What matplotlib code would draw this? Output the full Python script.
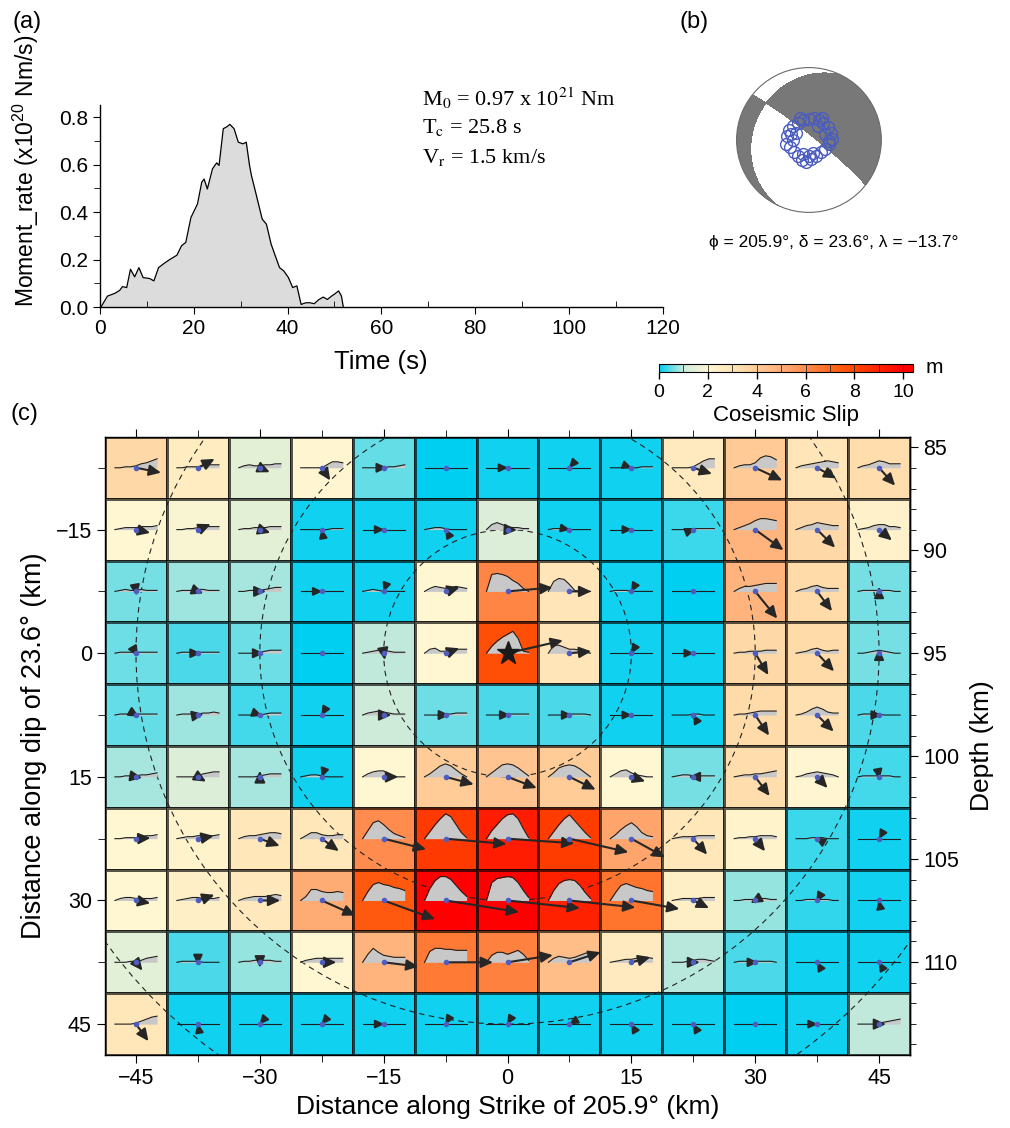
import numpy as np
import matplotlib.pyplot as plt
from matplotlib.colors import LinearSegmentedColormap, Normalize
from matplotlib.patches import Circle
import matplotlib.cm as cm

plt.rcParams['font.family'] = ['Liberation Sans', 'DejaVu Sans']
plt.rcParams['mathtext.fontset'] = 'custom'
plt.rcParams['mathtext.rm'] = 'Liberation Sans'
plt.rcParams['mathtext.it'] = 'Liberation Sans:italic'
plt.rcParams['axes.linewidth'] = 1.0

# ---------------- data ----------------
# (a) moment rate function
time_s = [0.0, 0.2, 1.6, 3.2, 4.2, 4.8, 5.7, 6.5, 7.4, 8.3, 9.2, 10.6, 11.5, 12.5,
          13.9, 15.2, 16.4, 17.4, 18.3, 19.4, 20.8, 21.7, 22.2, 22.9, 24.0, 24.9,
          25.4, 26.3, 27.0, 27.7, 28.6, 29.5, 30.5, 31.2, 31.9, 32.3, 33.2, 34.6,
          35.5, 36.5, 37.4, 38.3, 39.2, 40.2, 41.1, 42.0, 42.9, 43.9, 44.8, 45.7,
          46.6, 47.6, 48.5, 49.4, 50.0, 50.9, 51.5, 51.9]
moment_rate = [0.0, 0.0, 0.046, 0.058, 0.070, 0.086, 0.082, 0.159, 0.127, 0.166,
               0.124, 0.120, 0.110, 0.166, 0.187, 0.204, 0.218, 0.258, 0.272, 0.377,
               0.434, 0.525, 0.539, 0.497, 0.582, 0.607, 0.596, 0.751, 0.758, 0.769,
               0.751, 0.694, 0.687, 0.694, 0.596, 0.554, 0.483, 0.370, 0.349, 0.265,
               0.215, 0.166, 0.152, 0.124, 0.082, 0.089, 0.011, 0.018, 0.018, 0.014,
               0.030, 0.042, 0.032, 0.046, 0.054, 0.068, 0.046, 0.0]

# (b) focal mechanism
strike, dip, rake = 205.9, 23.6, -13.7
# blue open circles on the beachball (projected x, y)
ball_pts_x = [-0.30, -0.32, -0.28, -0.22, -0.15, -0.08, 0.00, 0.07, 0.14, 0.20, 0.26,
              0.30, 0.32, 0.28, 0.22, 0.16, 0.10, 0.03, -0.04, -0.10, -0.15, -0.20,
              -0.26, -0.22, -0.18, 0.12, 0.22, 0.05, -0.08, -0.25, 0.18, 0.27, -0.12, 0.00]
ball_pts_y = [0.05, -0.05, 0.14, 0.20, 0.24, 0.27, 0.29, 0.30, 0.27, 0.24, 0.18,
              0.10, 0.02, -0.06, -0.12, -0.16, -0.22, -0.26, -0.30, -0.27, -0.22, -0.16,
              -0.10, 0.00, 0.10, 0.20, 0.08, -0.18, -0.20, 0.08, 0.30, -0.02, 0.30, -0.22]

# (c) finite fault
hypo_depth = 95.0
vr = 1.5
front_times = [10, 20, 30, 40]
x_strike = [-45, -37.5, -30, -22.5, -15, -7.5, 0, 7.5, 15, 22.5, 30, 37.5, 45]
y_dip = [-22.5, -15, -7.5, 0, 7.5, 15, 22.5, 30, 37.5, 45]

slip = [
    [3.5, 2.6, 1.5, 2.1, 0.5, 0.0, 0.1, 0.1, 0.1, 2.7, 4.1, 3.0, 3.3],
    [2.0, 1.9, 1.5, 0.1, 0.1, 0.1, 1.3, 0.1, 0.1, 0.3, 4.8, 3.5, 2.3],
    [0.6, 0.8, 0.85, 0.1, 0.1, 2.0, 6.2, 3.0, 0.1, 0.0, 4.8, 3.4, 0.6],
    [0.55, 0.4, 0.55, 0.0, 0.95, 2.0, 7.8, 3.0, 0.1, 0.1, 3.5, 3.4, 0.6],
    [0.5, 0.8, 0.35, 0.1, 1.05, 0.55, 0.4, 0.4, 0.1, 0.1, 3.4, 3.2, 0.4],
    [0.85, 1.3, 0.85, 0.1, 2.0, 4.0, 4.3, 4.0, 2.0, 0.6, 3.3, 2.1, 0.35],
    [2.0, 2.2, 2.9, 2.9, 6.0, 8.4, 9.2, 8.3, 5.3, 2.9, 2.2, 0.3, 0.1],
    [2.0, 2.4, 2.8, 5.1, 7.5, 10.2, 10.0, 9.1, 6.7, 2.4, 0.75, 0.25, 0.1],
    [1.45, 0.4, 0.75, 2.0, 4.8, 6.5, 6.3, 4.5, 2.7, 0.9, 0.4, 0.1, 0.1],
    [2.9, 0.1, 0.1, 0.1, 0.1, 0.1, 0.1, 0.1, 0.1, 0.1, 0.0, 0.1, 0.95],
]

# slip direction on the fault plane (deg, counter-clockwise from +strike)
slip_dir = [
    [-11, 28, -24, -56, 0, 0, 0, -130, -20, -18, -25, -29, -48],
    [-13, 23, -17, 100, 0, 120, -3, -10, 0, 20, -36, -45, -40],
    [-80, -20, 0, 0, -110, 16, 5, 0, -120, 0, -51, -53, 90],
    [-60, 0, 0, 0, -80, 20, 13, 5, -120, 0, -59, -47, 90],
    [-30, 10, -20, -120, 0, 0, 0, 0, 0, 120, -56, -45, 0],
    [-10, -30, 90, -110, 0, -15, -21, -26, -18, 180, -53, -47, -80],
    [3, 10, -20, -36, -14, -5, -4, -13, -29, -49, -52, 150, -120],
    [-11, 19, 0, -24, -20, -9, -6, -6, -10, -26, -150, -120, 100],
    [-52, -90, -90, 0, -7, 0, 9, 18, 15, 0, 0, 120, 120],
    [-54, 100, -130, -130, 0, -120, -120, -150, 120, 120, 0, 0, 0],
]

# subfault source time functions (relative moment rate, 9 samples each)
z9 = [0, 0, 0, 0, 0, 0, 0, 0, 0]
stf = [
    [[0, 0, 1, 1, 2, 4, 5, 7, 9], [0, 0, 1, 1, 1, 2, 3, 3, 3], [0, 2, 3, 2, 2, 3, 3, 4, 4],
     [0, 0, 0, 0, 0, 3, 6, 6, 5], [0, 0, 0, 0, 0, 1, 1, 2, 3], z9, z9, z9,
     [0, 0, 0, 0, 0, 0, 1, 1, 1], [0, 0, 0, 0, 1, 4, 7, 9, 9], [0, 2, 3, 3, 5, 10, 12, 11, 8],
     [0, 2, 3, 4, 5, 6, 7, 6, 5], [0, 2, 3, 5, 7, 6, 4, 4, 4]],
    [[0, 1, 2, 2, 2, 3, 3, 3, 4], [0, 0, 1, 1, 2, 2, 3, 3, 3], [0, 1, 1, 2, 2, 2, 3, 3, 3],
     [0, 0, 0, 0, 0, 0, 1, 1, 1], z9, [0, 1, 2, 2, 1, 0, 0, 0, 0], [0, 5, 7, 5, 3, 2, 2, 1, 1],
     [0, 1, 1, 1, 0, 0, 0, 0, 0], z9, [0, 0, 0, 1, 1, 1, 1, 1, 1], [0, 2, 4, 6, 9, 11, 11, 10, 9],
     [0, 2, 4, 5, 7, 6, 5, 4, 4], [0, 1, 2, 4, 5, 5, 3, 3, 2]],
    [[0, 1, 2, 1, 1, 2, 1, 1, 1], [0, 1, 1, 1, 2, 2, 1, 1, 1], [0, 0, 1, 1, 1, 2, 3, 4, 4],
     z9, [0, 1, 2, 1, 0, 0, 0, 0, 0], [0, 3, 5, 4, 3, 4, 5, 4, 3], [0, 17, 18, 17, 15, 11, 8, 3, 0],
     [0, 10, 13, 12, 7, 1, 0, 0, 0], [0, 1, 1, 1, 0, 0, 0, 0, 0], z9, [0, 3, 5, 5, 6, 7, 8, 8, 8],
     [0, 2, 3, 5, 6, 4, 3, 3, 3], [0, 1, 1, 1, 1, 1, 1, 0, 0]],
    [[0, 1, 1, 1, 1, 1, 1, 1, 1], [0, 1, 1, 1, 1, 1, 1, 1, 1], [0, 0, 0, 0, 1, 2, 3, 3, 3],
     z9, [0, 1, 2, 3, 3, 2, 1, 1, 1], [0, 4, 5, 2, 2, 3, 4, 4, 4], [0, 7, 12, 16, 19, 22, 15, 2, 1],
     [0, 8, 8, 6, 4, 4, 3, 1, 0], z9, z9, [0, 1, 1, 2, 2, 2, 3, 3, 3],
     [0, 1, 2, 4, 5, 3, 2, 3, 3], [0, 0, 1, 2, 3, 2, 1, 0, 0]],
    [[0, 1, 1, 1, 1, 1, 1, 1, 1], [0, 1, 1, 1, 1, 2, 2, 3, 2], [0, 0, 0, 0, 0, 1, 2, 2, 2],
     z9, [0, 2, 3, 4, 3, 2, 1, 1, 1], [0, 0, 0, 0, 1, 1, 2, 2, 2], [0, 0, 0, 0, 1, 1, 1, 1, 1],
     [0, 0, 0, 0, 1, 1, 1, 1, 0], z9, [0, 0, 0, 0, 1, 1, 0, 0, 0], [0, 1, 1, 2, 3, 4, 4, 4, 4],
     [0, 1, 3, 6, 8, 6, 3, 2, 2], [0, 1, 1, 1, 1, 0, 0, 0, 0]],
    [[0, 0, 1, 1, 1, 2, 2, 3, 4], [0, 0, 0, 0, 1, 3, 4, 5, 5], [0, 0, 0, 0, 1, 2, 3, 3, 3],
     [0, 1, 2, 2, 1, 0, 0, 0, 0], [0, 3, 5, 6, 6, 3, 0, 0, 0], [0, 3, 7, 11, 13, 11, 7, 3, 0],
     [0, 4, 8, 12, 13, 12, 9, 5, 1], [0, 4, 9, 11, 12, 11, 8, 4, 0], [0, 3, 6, 7, 4, 2, 1, 0, 0],
     [0, 1, 2, 2, 1, 1, 1, 1, 1], [0, 1, 2, 2, 3, 3, 4, 5, 6], [0, 1, 3, 4, 5, 4, 3, 2, 0],
     [0, 1, 1, 1, 1, 1, 1, 0, 0]],
    [[0, 0, 1, 1, 1, 2, 3, 3, 4], [0, 1, 2, 2, 3, 3, 3, 3, 4], [0, 2, 3, 3, 4, 5, 6, 6, 5],
     [0, 3, 6, 6, 4, 3, 3, 4, 4], [0, 8, 16, 18, 14, 9, 5, 3, 1], [0, 7, 14, 20, 25, 22, 14, 6, 1],
     [0, 8, 14, 20, 24, 25, 20, 10, 1], [0, 7, 14, 20, 24, 18, 12, 6, 1], [0, 4, 9, 13, 16, 12, 6, 3, 2],
     [0, 1, 2, 2, 2, 3, 3, 3, 3], [0, 1, 1, 2, 2, 3, 3, 3, 2], [0, 0, 0, 1, 1, 1, 0, 0, 0], z9],
    [[0, 2, 3, 3, 2, 2, 2, 2, 3], [0, 1, 2, 3, 3, 2, 2, 2, 3], [0, 2, 3, 4, 4, 4, 5, 6, 5],
     [0, 4, 11, 11, 9, 8, 8, 9, 8], [0, 9, 16, 18, 16, 15, 13, 12, 10], [0, 12, 20, 24, 24, 21, 15, 9, 4],
     [0, 18, 22, 23, 24, 23, 18, 10, 3], [0, 10, 17, 20, 21, 20, 15, 8, 2], [0, 8, 15, 17, 15, 13, 12, 10, 9],
     [0, 1, 2, 2, 2, 2, 3, 3, 3], [0, 0, 1, 1, 1, 2, 2, 1, 1], [0, 0, 1, 1, 1, 1, 1, 0, 0], z9],
    [[0, 0, 0, 1, 1, 2, 4, 5, 6], [0, 1, 1, 1, 1, 0, 0, 0, 0], [0, 1, 1, 2, 2, 2, 2, 1, 1],
     [0, 2, 3, 4, 4, 4, 4, 4, 4], [0, 8, 14, 10, 7, 6, 5, 5, 5], [0, 11, 14, 14, 13, 13, 12, 12, 12],
     [0, 7, 10, 10, 8, 10, 12, 8, 2], [0, 4, 6, 5, 4, 5, 7, 9, 10], [0, 1, 2, 3, 3, 4, 5, 5, 4],
     [0, 0, 0, 1, 2, 3, 3, 2, 1], [0, 1, 1, 1, 1, 1, 1, 1, 0], z9, z9],
    [[0, 0, 0, 0, 1, 3, 5, 7, 8], z9, z9, z9, z9, z9, z9, z9, z9, z9, z9, z9,
     [0, 0, 0, 0, 1, 2, 3, 4, 5]],
]

# slip colour table (m)
cpt_vals = [0, 1, 2, 3, 4, 5, 6, 7, 8, 9, 10, 10.4]
cpt_cols = ['#00CFF2', '#CDEBDA', '#FFF6D2', '#FFE5B6', '#FFCC98', '#FFAE78',
            '#FF8C4E', '#FF6A1E', '#FF4800', '#FF2400', '#FF0000', '#FF0000']

# ---------------- figure ----------------
fig = plt.figure(figsize=(10.1, 11.28), dpi=100)

# (a) moment rate
ax1 = fig.add_axes([0.099, 0.7278, 0.557, 0.179])
ax1.fill_between(time_s, 0, moment_rate, color='#DCDCDC', lw=0)
ax1.plot(time_s, moment_rate, color='k', lw=0.9)
ax1.set_xlim(0, 120)
ax1.set_ylim(0, 0.85)
ax1.spines['top'].set_visible(False)
ax1.spines['right'].set_visible(False)
ax1.set_xticks(np.arange(0, 121, 20))
ax1.set_xticks(np.arange(10, 120, 20), minor=True)
ax1.set_yticks([0, 0.2, 0.4, 0.6, 0.8])
ax1.set_yticks([0.1, 0.3, 0.5, 0.7], minor=True)
ax1.yaxis.set_major_formatter(plt.FormatStrFormatter('%.1f'))
ax1.tick_params(which='major', direction='out', length=5, labelsize=15)
ax1.tick_params(axis='x', which='minor', direction='in', length=4)
ax1.tick_params(axis='y', which='minor', direction='out', length=4)
ax1.set_xlabel('Time (s)', fontsize=18.5, labelpad=9)
ax1.set_ylabel('Moment_rate (x10$^{20}$ Nm/s)', fontsize=16.5)
ax1.yaxis.set_label_coords(-0.105, 0.675)

serif = dict(family='Liberation Serif', fontsize=16, math_fontfamily='stix')
fig.text(0.418, 0.913, r'M$_0$ = 0.97 x 10$^{21}$ Nm', va='center', **serif)
fig.text(0.418, 0.887, r'T$_\mathrm{c}$ = 25.8 s', va='center', **serif)
fig.text(0.418, 0.860, r'V$_\mathrm{r}$ = 1.5 km/s', va='center', **serif)

# (b) beachball
ax2 = fig.add_axes([0.7257, 0.8085, 0.1505, 0.1348])
ax2.set_xlim(-1.05, 1.05)
ax2.set_ylim(-1.05, 1.05)
ax2.axis('off')
s, d, r = np.radians([strike, dip, rake])
Mxx = -(np.sin(d) * np.cos(r) * np.sin(2 * s) + np.sin(2 * d) * np.sin(r) * np.sin(s) ** 2)
Mxy = np.sin(d) * np.cos(r) * np.cos(2 * s) + 0.5 * np.sin(2 * d) * np.sin(r) * np.sin(2 * s)
Mxz = -(np.cos(d) * np.cos(r) * np.cos(s) + np.cos(2 * d) * np.sin(r) * np.sin(s))
Myy = np.sin(d) * np.cos(r) * np.sin(2 * s) - np.sin(2 * d) * np.sin(r) * np.cos(s) ** 2
Myz = -(np.cos(d) * np.cos(r) * np.sin(s) - np.cos(2 * d) * np.sin(r) * np.cos(s))
Mzz = np.sin(2 * d) * np.sin(r)
M = np.array([[Mxx, Mxy, Mxz], [Mxy, Myy, Myz], [Mxz, Myz, Mzz]])
g = np.linspace(-1.02, 1.02, 601)
X, Y = np.meshgrid(g, g)
R = np.hypot(X, Y)
inc = 2 * np.arcsin(np.clip(R / np.sqrt(2), 0, 1))
az = np.arctan2(X, Y)
n = np.stack([np.sin(inc) * np.cos(az), np.sin(inc) * np.sin(az), np.cos(inc)])
amp = np.einsum('i...,ij,j...->...', n, M, n)
amp[R > 1.01] = np.nan
cs = ax2.contourf(X, Y, amp, levels=[0, np.nanmax(amp) + 1], colors=['#787878'])
clip = Circle((0, 0), 1, transform=ax2.transData)
cs.set_clip_path(clip)
ax2.add_patch(Circle((0, 0), 1, fill=False, ec='#6a6a6a', lw=0.8))
ax2.plot(ball_pts_x, ball_pts_y, 'o', mfc='none', mec='#4A5CC0', ms=8.5, mew=1.0)
fig.text(0.825, 0.785, 'ϕ = 205.9°, δ = 23.6°, λ = −13.7°', ha='center', va='center', fontsize=12.5)

# colorbar
cmap = LinearSegmentedColormap.from_list('slip', list(zip(np.array(cpt_vals) / cpt_vals[-1], cpt_cols)))
norm = Normalize(0, cpt_vals[-1])
cax = fig.add_axes([0.6525, 0.6702, 0.2515, 0.0075])
cb = fig.colorbar(cm.ScalarMappable(norm=norm, cmap=cmap), cax=cax, orientation='horizontal',
                  ticks=[0, 2, 4, 6, 8, 10])
cb.outline.set_linewidth(0.8)
cax.vlines(np.arange(1, 11), 0, 1, colors='#222222', lw=0.7, alpha=0.8)
cax.tick_params(labelsize=14, length=5, width=1, direction='out')
cb.set_label('Coseismic Slip', fontsize=16, labelpad=3)
fig.text(0.916, 0.674, 'm', fontsize=15, va='center')

# (c) finite fault
ax3 = fig.add_axes([0.104, 0.0647, 0.797, 0.548])
xc = np.array(x_strike)
yc = np.array(y_dip)
x_edges = np.r_[xc - 3.75, xc[-1] + 3.75]
y_edges = np.r_[yc - 3.75, yc[-1] + 3.75]
ax3.pcolormesh(x_edges, y_edges, np.array(slip), cmap=cmap, norm=norm,
               edgecolors=(0, 0, 0, 0.65), linewidth=0.8, zorder=1)
ax3.set_xlim(x_edges[0], x_edges[-1])
ax3.set_ylim(y_edges[-1], y_edges[0])

for t in front_times:
    ax3.add_patch(Circle((0, 0), vr * t, fill=False, ec='#222222', lw=0.8,
                         ls=(0, (5, 4)), zorder=2))

stf_half = 2.55     # km along strike for the time window
stf_amp = 0.121     # km per moment-rate unit
arrow_scale = 0.883  # km per metre of slip
tt = np.linspace(-stf_half, stf_half, 9)
for i, y0 in enumerate(y_dip):
    for j, x0 in enumerate(x_strike):
        h = np.array(stf[i][j]) * stf_amp
        ax3.fill_between(x0 + tt, y0, y0 - h, color='#C8C8C8', lw=0, zorder=3)
        ax3.plot(x0 + tt, y0 - h, color='#1e1e1e', lw=0.8, zorder=3.5)
        sl = slip[i][j]
        if sl > 0.05:
            a = np.radians(slip_dir[i][j])
            L = sl * arrow_scale
            ms = 7.5 + 3.5 * min(sl, 1.0)
            ax3.annotate('', xy=(x0 + L * np.cos(a), y0 - L * np.sin(a)), xytext=(x0, y0),
                         arrowprops=dict(arrowstyle='-|>,head_length=0.65,head_width=0.3',
                                         color='#262626', lw=1.5, shrinkA=0, shrinkB=0,
                                         mutation_scale=ms), zorder=5)
XC, YC = np.meshgrid(xc, yc)
ax3.plot(XC.ravel(), YC.ravel(), 'o', color='#4F5DBF', ms=3.0, zorder=6, lw=0)
ax3.plot([0], [0], '*', color='#1a1a1a', ms=17, zorder=7)

ax3.set_xticks([-45, -30, -15, 0, 15, 30, 45])
ax3.set_xticks([-37.5, -22.5, -7.5, 7.5, 22.5, 37.5], minor=True)
ax3.set_yticks([-15, 0, 15, 30, 45])
ax3.set_yticks([-22.5, -7.5, 7.5, 22.5, 37.5], minor=True)
ax3.tick_params(which='both', direction='out', top=True, labeltop=False, labelsize=15.5)
ax3.tick_params(which='major', length=6)
ax3.tick_params(which='minor', length=5)
ax3.set_xlabel('Distance along Strike of 205.9° (km)', fontsize=19, labelpad=4)
ax3.set_ylabel('Distance along dip of 23.6° (km)', fontsize=19.5, labelpad=6)

sdip = np.sin(np.radians(dip))
sec = ax3.secondary_yaxis('right', functions=(lambda v: hypo_depth + v * sdip,
                                               lambda z: (z - hypo_depth) / sdip))
sec.set_yticks([85, 90, 95, 100, 105, 110])
sec.set_yticks(np.arange(84, 115, 1), minor=True)
sec.tick_params(which='both', direction='out', labelsize=15.5)
sec.tick_params(which='major', length=6)
sec.tick_params(which='minor', length=4)
sec.set_ylabel('Depth (km)', fontsize=19, labelpad=8)

fig.text(0.012, 0.99, '(a)', fontsize=17, va='top')
fig.text(0.673, 0.99, '(b)', fontsize=17, va='top')
fig.text(0.010, 0.643, '(c)', fontsize=17, va='top')

fig.savefig('out.png', dpi=100)
